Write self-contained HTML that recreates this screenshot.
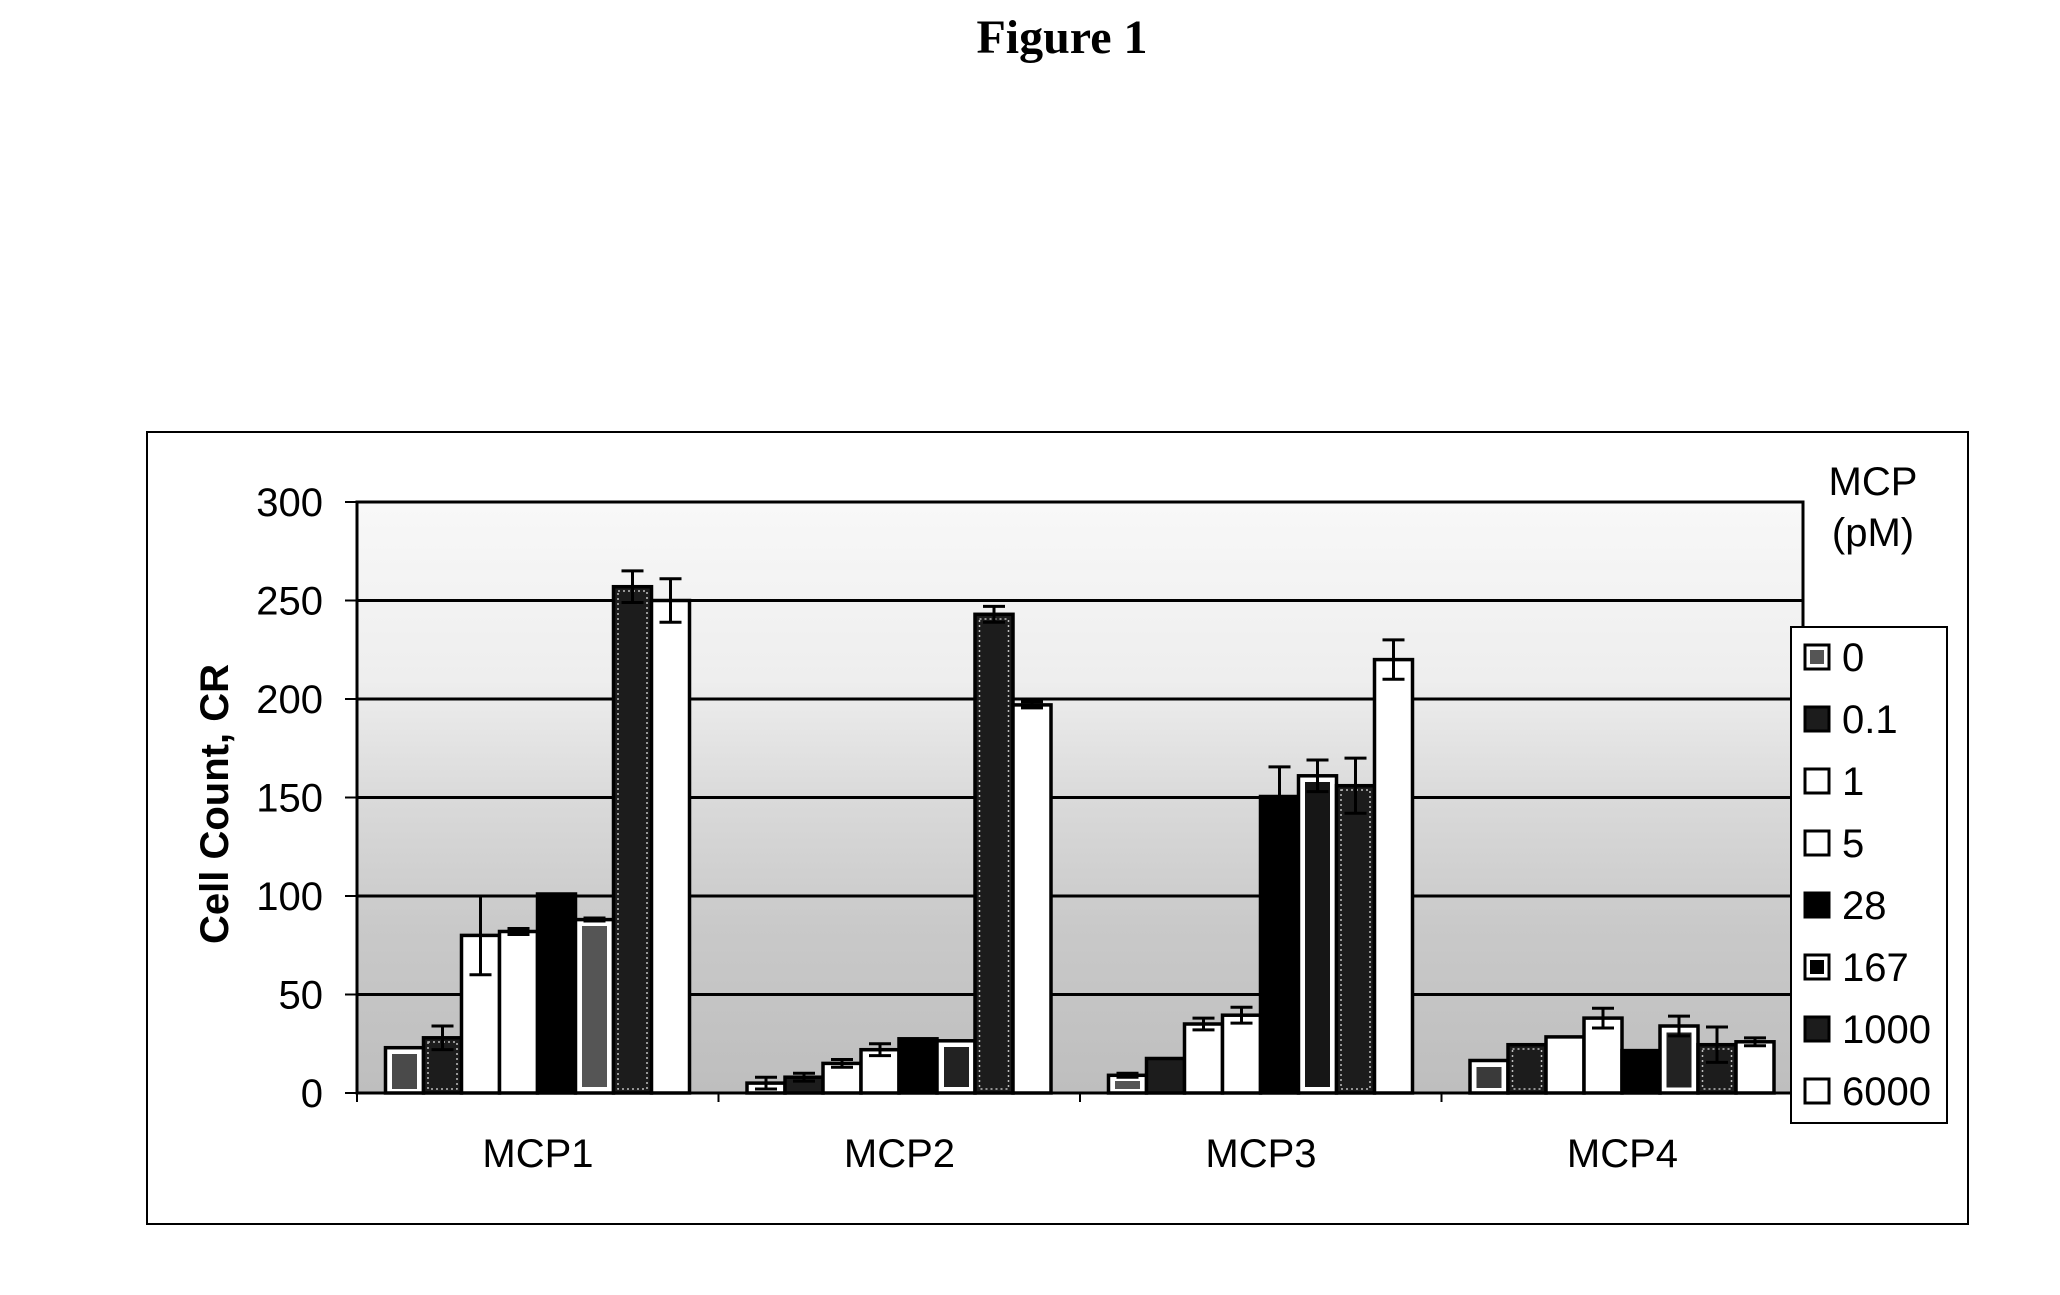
<!DOCTYPE html>
<html>
<head>
<meta charset="utf-8">
<style>
  html, body { margin:0; padding:0; background:#fff; }
  svg { display:block; }
  text { font-family: "Liberation Sans", Arial, sans-serif; fill:#000; }
</style>
</head>
<body>
<svg width="2060" height="1295" viewBox="0 0 2060 1295" xmlns="http://www.w3.org/2000/svg">
  <defs>
    <linearGradient id="bg" x1="0" y1="0" x2="0" y2="1">
      <stop offset="0" stop-color="#f8f8f8"/>
      <stop offset="0.3" stop-color="#eeeeee"/>
      <stop offset="0.5" stop-color="#dadada"/>
      <stop offset="0.72" stop-color="#c9c9c9"/>
      <stop offset="1" stop-color="#bebebe"/>
    </linearGradient>
  </defs>

  <!-- Title -->
  <text x="1062" y="53" text-anchor="middle" style="font-family:'Liberation Serif','Times New Roman',serif;font-weight:bold;font-size:48px;">Figure 1</text>

  <!-- Outer chart border -->
  <rect x="147" y="432" width="1821" height="792" fill="#fff" stroke="#000" stroke-width="2"/>

  <!-- Plot area -->
  <rect x="357" y="502" width="1446" height="591" fill="url(#bg)"/>

  <!-- Gridlines -->
  <g stroke="#000" stroke-width="3">
    <line x1="357" y1="994.5" x2="1803" y2="994.5"/>
    <line x1="357" y1="896" x2="1803" y2="896"/>
    <line x1="357" y1="797.5" x2="1803" y2="797.5"/>
    <line x1="357" y1="699" x2="1803" y2="699"/>
    <line x1="357" y1="600.5" x2="1803" y2="600.5"/>
  </g>

  <!-- Bars -->
  <g stroke="#000" stroke-width="3.5">
    <!-- MCP1 -->
    <rect x="385.5" y="1047.7" width="38" height="45.3" fill="#fff"/>
    <rect x="392" y="1054" width="25" height="35" fill="#4a4a4a" stroke="none"/>
    <rect x="423.5" y="1037.8" width="38" height="55.2" fill="#1c1c1c"/>
    <rect x="461.5" y="935.4" width="38" height="157.6" fill="#fff"/>
    <rect x="499.5" y="931.5" width="38" height="161.5" fill="#fff"/>
    <rect x="537.5" y="894" width="38" height="199" fill="#000"/>
    <rect x="575.5" y="919.6" width="38" height="173.4" fill="#fff"/>
    <rect x="582" y="926" width="25" height="161" fill="#555" stroke="none"/>
    <rect x="613.5" y="586.7" width="38" height="506.3" fill="#1c1c1c"/>
    <rect x="651.5" y="600.5" width="38" height="492.5" fill="#fff"/>

    <!-- MCP2 -->
    <rect x="747" y="1083.1" width="38" height="9.9" fill="#fff"/>
    <rect x="785" y="1077.2" width="38" height="15.8" fill="#1c1c1c"/>
    <rect x="823" y="1063.4" width="38" height="29.6" fill="#fff"/>
    <rect x="861" y="1049.7" width="38" height="43.3" fill="#fff"/>
    <rect x="899" y="1038.8" width="38" height="54.2" fill="#000"/>
    <rect x="937" y="1040.8" width="38" height="52.2" fill="#fff"/>
    <rect x="944" y="1047" width="25" height="40" fill="#222" stroke="none"/>
    <rect x="975" y="614.3" width="38" height="478.7" fill="#1c1c1c"/>
    <rect x="1013" y="704.9" width="38" height="388.1" fill="#fff"/>

    <!-- MCP3 -->
    <rect x="1108.5" y="1075.3" width="38" height="17.7" fill="#fff"/>
    <rect x="1115" y="1081" width="25" height="8" fill="#555" stroke="none"/>
    <rect x="1146.5" y="1058.5" width="38" height="34.5" fill="#1c1c1c"/>
    <rect x="1184.5" y="1024" width="38" height="69" fill="#fff"/>
    <rect x="1222.5" y="1015.2" width="38" height="77.8" fill="#fff"/>
    <rect x="1260.5" y="796.5" width="38" height="296.5" fill="#000"/>
    <rect x="1298.5" y="775.8" width="38" height="317.2" fill="#fff"/>
    <rect x="1305" y="782" width="25" height="305" fill="#161616" stroke="none"/>
    <rect x="1336.5" y="785.7" width="38" height="307.3" fill="#1c1c1c"/>
    <rect x="1374.5" y="659.6" width="38" height="433.4" fill="#fff"/>

    <!-- MCP4 -->
    <rect x="1470" y="1060.5" width="38" height="32.5" fill="#fff"/>
    <rect x="1476.5" y="1067" width="25" height="21" fill="#3a3a3a" stroke="none"/>
    <rect x="1508" y="1044.7" width="38" height="48.3" fill="#1c1c1c"/>
    <rect x="1546" y="1036.9" width="38" height="56.1" fill="#fff"/>
    <rect x="1584" y="1018.1" width="38" height="74.9" fill="#fff"/>
    <rect x="1622" y="1050.6" width="38" height="42.4" fill="#000"/>
    <rect x="1660" y="1026" width="38" height="67" fill="#fff"/>
    <rect x="1666.5" y="1032.5" width="25" height="55" fill="#222" stroke="none"/>
    <rect x="1698" y="1044.7" width="38" height="48.3" fill="#1c1c1c"/>
    <rect x="1736" y="1041.8" width="38" height="51.2" fill="#fff"/>
  </g>

  <!-- Dotted inner outlines for 0.1 and 1000 series -->
  <g fill="none" stroke="#bbb" stroke-width="1.5" stroke-dasharray="2 3">
    <rect x="428" y="1042" width="29" height="47"/>
    <rect x="618" y="591" width="29" height="498"/>
    <rect x="979.5" y="619" width="29" height="470"/>
    <rect x="1341" y="790" width="29" height="299"/>
    <rect x="1512.5" y="1049" width="29" height="40"/>
    <rect x="1702.5" y="1049" width="29" height="40"/>
  </g>

  <!-- Error bars -->
  <g stroke="#000" stroke-width="3" fill="none">
    <!-- MCP1 -->
    <path d="M442.5 1026V1049.6M431.5 1026H453.5M431.5 1049.6H453.5"/>
    <path d="M480.5 896V974.8M469.5 896H491.5M469.5 974.8H491.5"/>
    <path d="M518.5 928.5V934.5M507.5 928.5H529.5M507.5 934.5H529.5"/>
    <path d="M594.5 918V921M583.5 918H605.5M583.5 921H605.5"/>
    <path d="M632.5 570.9V602.5M621.5 570.9H643.5M621.5 602.5H643.5"/>
    <path d="M670.5 578.8V622.2M659.5 578.8H681.5M659.5 622.2H681.5"/>
    <!-- MCP2 -->
    <path d="M766 1077.2V1089M755 1077.2H777M755 1089H777"/>
    <path d="M804 1073.3V1081.1M793 1073.3H815M793 1081.1H815"/>
    <path d="M842 1059.5V1067.3M831 1059.5H853M831 1067.3H853"/>
    <path d="M880 1043.8V1055.6M869 1043.8H891M869 1055.6H891"/>
    <path d="M994 606.4V622.2M983 606.4H1005M983 622.2H1005"/>
    <path d="M1032 701.9V707.9M1021 701.9H1043M1021 707.9H1043"/>
    <!-- MCP3 -->
    <path d="M1127.5 1073.3V1077.3M1116.5 1073.3H1138.5M1116.5 1077.3H1138.5"/>
    <path d="M1203.5 1018.1V1029.9M1192.5 1018.1H1214.5M1192.5 1029.9H1214.5"/>
    <path d="M1241.5 1007.3V1023.1M1230.5 1007.3H1252.5M1230.5 1023.1H1252.5"/>
    <path d="M1279.5 766.9V826.1M1268.5 766.9H1290.5M1268.5 826.1H1290.5"/>
    <path d="M1317.5 760V791.6M1306.5 760H1328.5M1306.5 791.6H1328.5"/>
    <path d="M1355.5 758.1V813.3M1344.5 758.1H1366.5M1344.5 813.3H1366.5"/>
    <path d="M1393.5 639.9V679.3M1382.5 639.9H1404.5M1382.5 679.3H1404.5"/>
    <!-- MCP4 -->
    <path d="M1603 1008.2V1028M1592 1008.2H1614M1592 1028H1614"/>
    <path d="M1679 1016.1V1035.9M1668 1016.1H1690M1668 1035.9H1690"/>
    <path d="M1717 1027V1062.4M1706 1027H1728M1706 1062.4H1728"/>
    <path d="M1755 1037.9V1045.7M1744 1037.9H1766M1744 1045.7H1766"/>
  </g>

  <!-- Plot border -->
  <rect x="357" y="502" width="1446" height="591" fill="none" stroke="#000" stroke-width="3"/>

  <!-- Y ticks -->
  <g stroke="#000" stroke-width="2">
    <line x1="345" y1="1093" x2="357" y2="1093"/>
    <line x1="345" y1="994.5" x2="357" y2="994.5"/>
    <line x1="345" y1="896" x2="357" y2="896"/>
    <line x1="345" y1="797.5" x2="357" y2="797.5"/>
    <line x1="345" y1="699" x2="357" y2="699"/>
    <line x1="345" y1="600.5" x2="357" y2="600.5"/>
    <line x1="345" y1="502" x2="357" y2="502"/>
    <!-- X ticks -->
    <line x1="357" y1="1093" x2="357" y2="1102"/>
    <line x1="718.5" y1="1093" x2="718.5" y2="1102"/>
    <line x1="1080" y1="1093" x2="1080" y2="1102"/>
    <line x1="1441.5" y1="1093" x2="1441.5" y2="1102"/>
    <line x1="1803" y1="1093" x2="1803" y2="1102"/>
  </g>

  <!-- Y tick labels -->
  <g font-size="40" text-anchor="end">
    <text x="323" y="1107">0</text>
    <text x="323" y="1008.5">50</text>
    <text x="323" y="910">100</text>
    <text x="323" y="811.5">150</text>
    <text x="323" y="713">200</text>
    <text x="323" y="614.5">250</text>
    <text x="323" y="516">300</text>
  </g>

  <!-- Y axis title -->
  <text x="0" y="0" transform="translate(228,804) rotate(-90)" text-anchor="middle" font-size="40" font-weight="bold">Cell Count, CR</text>

  <!-- Category labels -->
  <g font-size="40" text-anchor="middle">
    <text x="538" y="1167">MCP1</text>
    <text x="899.5" y="1167">MCP2</text>
    <text x="1261" y="1167">MCP3</text>
    <text x="1622.5" y="1167">MCP4</text>
  </g>

  <!-- Legend title -->
  <g font-size="40" text-anchor="middle">
    <text x="1873" y="495">MCP</text>
    <text x="1873" y="546">(pM)</text>
  </g>

  <!-- Legend -->
  <rect x="1791" y="627" width="156" height="496" fill="#fff" stroke="#000" stroke-width="2"/>
  <g stroke="#000" stroke-width="3">
    <rect x="1805" y="645" width="24" height="24" fill="#fff"/>
    <rect x="1810" y="650" width="14" height="14" fill="#555" stroke="none"/>
    <rect x="1805" y="707" width="24" height="24" fill="#1c1c1c"/>
    <rect x="1805" y="769" width="24" height="24" fill="#fff"/>
    <rect x="1805" y="831" width="24" height="24" fill="#fff"/>
    <rect x="1805" y="893" width="24" height="24" fill="#000"/>
    <rect x="1805" y="955" width="24" height="24" fill="#fff"/>
    <rect x="1810" y="960" width="14" height="14" fill="#000" stroke="none"/>
    <rect x="1805" y="1017" width="24" height="24" fill="#1c1c1c"/>
    <rect x="1805" y="1079" width="24" height="24" fill="#fff"/>
  </g>
  <g font-size="40">
    <text x="1842" y="671">0</text>
    <text x="1842" y="733">0.1</text>
    <text x="1842" y="795">1</text>
    <text x="1842" y="857">5</text>
    <text x="1842" y="919">28</text>
    <text x="1842" y="981">167</text>
    <text x="1842" y="1043">1000</text>
    <text x="1842" y="1105">6000</text>
  </g>
</svg>
</body>
</html>
